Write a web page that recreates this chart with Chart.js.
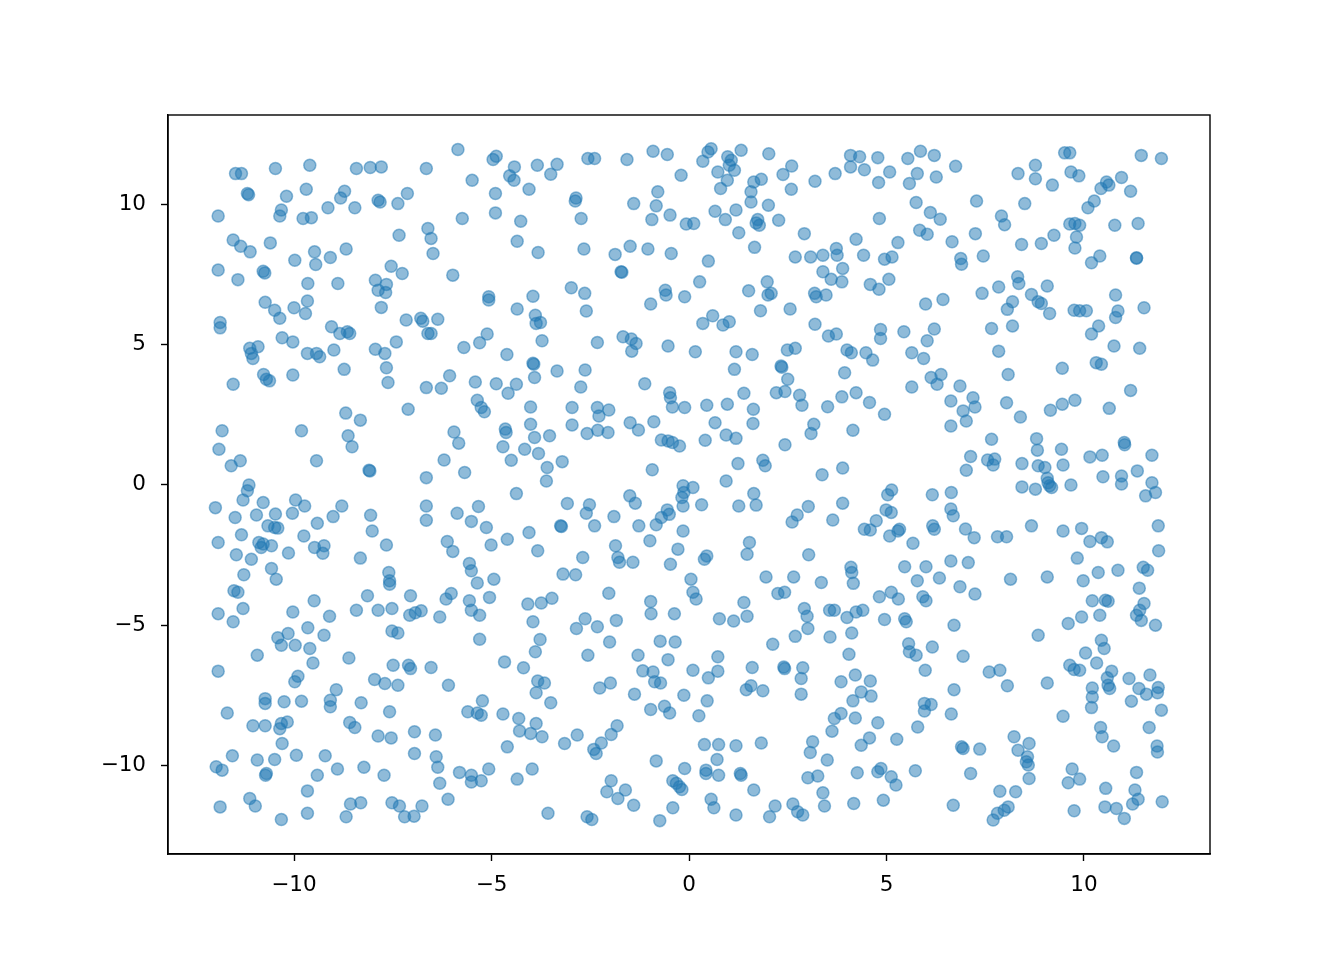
<!DOCTYPE html>
<html>
<head>
<meta charset="utf-8">
<script src="https://cdn.jsdelivr.net/npm/chart.js@4.4.1/dist/chart.umd.min.js"></script>
<style>
  body { margin: 0; background: #fff; }
  #wrap { width: 1344px; height: 960px; }
</style>
</head>
<body>
<div id="wrap"><canvas id="myChart" width="1344" height="960"></canvas></div>
<script>
// values, region by region
var xValues = [
  -11.48,-11.33,-10.47,-9.60,-8.42,-8.07,-7.79,-6.65,
  -11.18,-11.15,-10.19,-9.69,-8.72,-8.82,-7.87,-7.82,-7.13,-7.37,
  -11.92,-10.32,-10.36,-9.77,-9.56,-9.14,-8.46,-7.34,-6.61,
  -11.54,-11.35,-11.11,-10.60,-9.48,-9.45,-9.08,-8.68,-9.98,
  -11.92,-10.78,-10.74,-11.42,-9.65,-8.89,-7.54,-7.26,-7.94,-7.87,-7.66,-7.68,-7.79,
  -10.73,-10.49,-10.36,-10.00,-9.66,-9.71,-11.87,-11.87,-9.05,-8.84,-8.65,-8.59,-7.16,-6.79,-6.74,-6.61,
  -10.30,-10.03,-11.12,-10.91,-11.08,-11.04,-9.66,-9.43,-9.35,-8.99,-7.94,-7.70,-7.41,
  -5.85,-4.96,-4.88,-6.53,-6.48,-5.49,-4.42,-4.54,-4.43,-3.84,-3.34,-3.50,
  -4.90,-4.05,-2.56,-2.39,-1.57,-0.91,-0.55,-0.20,-2.86,-2.88,-2.73,-1.40,
  -0.79,-0.83,-0.94,-0.48,-0.07,-5.74,-4.90,-4.26,-4.35,-3.82,-2.66,
  -1.87,-1.49,-1.04,-0.45,-1.72,-1.70,-5.98,-5.07,-5.07,-3.95,-4.35,
  -3.89,-3.87,-3.76,-2.98,-2.64,-2.60,-0.60,-0.58,-0.97,-0.11,-6.36,-6.53,
  -5.11,-5.30,-5.70,-4.61,-3.72,-2.32,-1.67,-1.46,-1.34,-1.45,-0.53,
  0.56,0.48,0.35,1.32,2.02,0.98,1.07,1.02,1.15,0.73,0.97,0.80,
  1.64,1.83,1.57,1.57,2.38,2.60,2.59,3.19,3.70,4.09,4.32,4.09,4.44,
  4.78,4.80,5.08,5.54,5.86,6.21,5.78,5.58,6.26,0.12,0.66,0.92,1.19,
  2.01,1.74,1.78,1.70,2.27,1.26,1.66,2.92,0.49,0.27,
  2.69,3.08,3.39,3.73,3.75,3.89,3.39,3.60,3.87,4.23,4.42,4.82,5.29,
  4.95,5.14,4.59,4.81,5.06,5.75,6.11,6.36,5.84,6.03,1.98,2.08,2.00,
  1.51,3.18,3.22,3.47,1.81,2.56,5.99,6.43,0.35,0.60,0.86,1.02,
  3.19,3.53,3.73,4.85,4.85,5.44,6.21,6.03,0.16,1.19,1.60,2.49,2.69,
  4.00,4.11,4.48,4.65,5.64,5.94,
  6.75,9.51,9.64,11.45,11.96,8.33,8.77,8.77,9.20,9.67,9.87,
  10.43,10.57,10.63,10.95,11.18,7.28,8.50,10.26,10.10,7.91,7.99,7.25,6.66,
  9.64,9.77,9.89,9.81,9.77,10.78,11.37,8.42,8.92,9.24,10.40,10.19,
  11.33,11.33,6.88,6.90,7.45,8.32,8.35,7.84,7.42,8.67,8.84,8.92,9.07,
  8.19,8.06,9.13,9.75,9.89,10.06,10.80,10.86,10.80,11.52,7.66,8.19,10.37,
  10.19,7.84,10.76,11.41,
  -8.73,-7.66,-7.62,-10.77,-10.70,-10.62,-10.03,-11.54,-6.65,-7.11,-8.69,-8.32,
  -11.82,-9.81,-8.63,-8.53,-11.90,-11.59,-11.36,-9.43,-8.10,-8.08,-11.14,-11.18,-11.29,
  -6.65,-11.99,-10.78,-10.95,-11.49,-10.47,-10.66,-10.49,-10.41,-9.96,-9.73,-10.04,
  -8.79,-9.01,-9.41,-8.06,-8.02,-6.65,-6.65,-11.92,-11.33,-10.89,-10.83,-10.78,-10.57,
  -9.75,-9.48,-9.24,-9.27,-10.14,-11.46,-11.08,-7.66,-8.32,-10.57,-10.45,-11.27,
  -7.60,-7.58,-7.58,-11.52,-11.42,-8.14,-7.05,-9.49,
  -3.95,-3.93,-3.91,-3.34,-2.63,-2.74,-1.12,-6.06,-6.27,-5.41,-4.88,-4.37,-4.58,
  -5.36,-5.26,-5.18,-4.01,-2.96,-2.96,-2.32,-2.03,-2.28,-2.58,-2.31,-2.05,
  -1.49,-1.28,-0.89,-0.49,-0.47,-0.42,-0.11,-5.95,-5.83,-4.65,-4.63,-4.71,-4.50,
  -4.01,-3.91,-3.53,-4.16,-3.81,-3.59,-3.61,-3.21,-0.70,-0.53,-0.42,-0.24,
  -6.20,-5.68,-0.93,-4.37,-3.08,-1.50,-1.36,-2.52,-2.60,-2.39,-1.90,-3.25,-3.23,
  -5.87,-5.51,-5.33,-5.13,-4.60,-5.01,-4.05,-3.83,-6.12,-5.98,-1.27,-0.99,
  -0.83,-0.70,-0.55,-0.50,-0.15,-0.13,-0.18,-0.15,-0.15,-0.28,-0.47,
  -1.86,-1.80,-1.76,-1.42,-2.69,-3.19,-2.87,-2.03,-0.97,-5.56,-5.51,-5.36,-4.94,
  -6.15,-6.02,-5.05,-5.56,-4.08,-3.74,-3.47,
  1.15,2.33,2.35,2.50,2.21,2.43,2.80,2.86,3.94,1.39,0.45,0.97,
  1.63,1.62,0.66,0.94,1.19,0.41,2.43,3.16,3.09,3.51,3.87,4.23,4.57,
  4.95,4.15,5.64,6.13,6.38,6.28,1.24,1.87,1.93,0.94,0.10,0.32,
  1.26,1.64,1.70,3.37,3.89,2.61,2.74,3.02,3.89,3.64,5.03,5.13,4.99,
  5.12,4.74,4.44,4.59,5.08,5.29,5.33,5.67,6.16,6.17,6.21,1.53,1.47,
  0.39,0.45,3.03,1.95,2.65,3.35,4.10,4.12,4.16,5.46,6.00,5.78,6.34,
  0.05,0.10,0.18,1.39,2.25,2.42,4.82,5.12,5.30,5.92,6.00,
  8.08,9.45,10.31,10.44,11.18,6.86,6.63,7.19,7.24,6.94,7.02,6.63,
  8.04,8.39,9.15,9.45,9.77,10.64,7.66,8.80,8.82,9.43,11.02,11.03,11.72,
  7.13,7.02,7.56,7.74,7.70,8.43,8.84,9.01,9.47,10.15,10.46,9.07,9.13,
  9.18,9.09,8.43,8.77,9.67,10.48,10.95,10.95,11.35,11.72,11.81,11.56,
  6.64,6.63,6.69,7.00,8.67,7.22,7.81,8.04,9.47,9.94,10.15,10.44,10.59,
  11.88,11.89,6.63,7.07,9.83,10.36,9.98,10.86,11.50,11.61,8.14,9.07,
  6.86,7.24,11.40,10.21,10.54,10.61,11.52,
  -11.92,-11.54,-11.29,-10.03,-9.10,-8.42,-7.87,-7.52,-7.07,-6.93,-6.78,
  -10.41,-10.15,-10.32,-9.97,-9.65,-9.24,-9.60,-9.52,-10.93,-8.61,-7.52,-7.37,
  -11.92,-9.98,-9.90,-7.49,-7.10,-7.05,-7.96,-7.70,-7.37,-10.73,-10.73,-10.25,-9.81,
  -8.93,-9.08,-9.08,-8.30,-7.58,-11.69,-11.04,-10.73,-10.36,-10.17,-10.32,-10.30,
  -8.59,-8.46,-7.87,-7.54,-6.95,-6.95,-11.97,-11.82,-11.56,-10.93,-10.49,-9.94,
  -10.72,-10.70,-9.21,-8.90,-9.41,-8.23,-7.72,-9.66,-11.87,-11.12,-10.98,-10.32,
  -9.66,-8.57,-8.31,-8.68,-7.52,-7.33,-7.20,-6.96,-6.76,
  -6.31,-5.51,-5.30,-0.96,-0.37,-5.30,-3.95,-3.77,-3.89,-2.85,-2.63,-2.32,-1.84,
  -2.01,-2.56,-1.29,-1.17,-0.91,-0.87,-0.72,-0.73,-0.35,-0.53,-6.53,-6.09,
  -4.67,-4.19,-3.83,-3.66,-3.87,-3.50,-2.26,-1.99,-1.38,-0.13,-0.97,-0.62,-0.49,
  -5.60,-5.36,-5.26,-5.23,-4.71,-4.31,-4.29,-4.01,-3.87,-3.72,-6.42,-4.60,
  -3.15,-2.83,-2.41,-2.35,-2.22,-1.97,-1.82,-6.40,-6.36,-6.31,-6.10,
  -5.81,-5.51,-5.51,-5.26,-5.07,-4.35,-3.97,-0.83,-1.97,-2.08,-1.80,-1.61,-1.40,
  -3.57,-2.58,-2.46,-0.41,-0.32,-0.24,-0.18,-0.11,-0.41,-0.74,
  0.77,1.13,1.47,2.92,2.99,3.01,2.69,3.56,3.68,4.00,4.23,4.40,4.12,
  4.95,5.46,5.50,2.12,3.57,4.05,5.56,5.58,5.75,6.16,5.98,0.73,
  0.73,0.10,0.49,1.60,2.40,2.42,2.88,2.84,2.84,1.45,1.57,1.87,0.46,
  0.25,3.85,4.21,4.59,4.36,4.61,4.15,5.96,5.96,6.13,5.79,3.68,
  3.85,4.21,3.62,4.78,4.57,4.36,5.26,0.39,0.75,1.19,1.83,0.71,3.13,
  3.07,3.50,0.43,0.43,0.75,1.30,1.32,1.64,3.01,3.26,4.26,4.78,
  4.86,5.12,5.24,5.73,3.39,3.43,0.56,0.63,1.19,2.18,2.04,2.63,2.75,
  2.88,4.17,4.92,
  9.94,10.40,9.60,11.33,11.45,11.41,11.81,6.71,8.84,6.94,7.60,7.87,
  8.06,9.07,6.71,6.64,9.47,10.44,10.51,10.04,10.32,9.64,9.75,9.89,
  10.70,10.59,10.61,10.65,10.21,10.21,10.19,11.14,11.67,11.39,11.58,11.20,11.88,
  11.86,11.96,10.42,10.46,10.75,11.65,11.85,11.86,6.90,6.94,7.36,
  8.23,8.61,8.33,8.57,8.54,8.59,8.61,7.13,9.70,9.89,9.60,
  11.33,11.29,11.37,11.23,10.55,11.98,6.69,7.87,8.27,8.08,7.98,7.81,7.70,
  9.75,10.53,10.82,11.02
];
var yValues = [
  11.10,11.10,11.28,11.40,11.28,11.32,11.34,11.28,
  10.39,10.35,10.29,10.54,10.47,10.23,10.15,10.09,10.39,10.03,
  9.59,9.80,9.59,9.50,9.53,9.88,9.88,8.90,9.14,
  8.73,8.51,8.31,8.63,8.31,7.86,8.11,8.41,8.01,
  7.66,7.62,7.56,7.32,7.18,7.18,7.80,7.54,7.30,6.94,7.15,6.86,6.33,
  6.51,6.23,5.94,6.32,6.56,6.11,5.79,5.60,5.64,5.40,5.46,5.40,5.88,5.94,5.84,5.40,
  5.25,5.10,4.87,4.93,4.69,4.51,4.69,4.69,4.57,4.81,4.84,4.69,5.10,
  11.96,11.60,11.72,8.79,8.25,10.86,11.34,11.02,10.86,11.40,11.43,11.08,
  10.39,10.54,11.64,11.64,11.60,11.90,11.78,11.04,10.23,10.12,9.50,10.03,
  10.45,9.95,9.46,9.62,9.30,9.50,9.70,9.40,8.69,8.29,8.41,
  8.22,8.51,8.41,8.25,7.60,7.58,7.48,6.71,6.59,6.73,6.27,
  6.05,5.76,5.79,7.03,6.83,6.20,6.94,6.77,6.45,6.71,5.91,5.40,
  5.38,5.07,4.90,4.65,5.14,5.08,5.28,5.20,5.04,4.77,4.95,
  11.99,11.87,11.54,11.93,11.81,11.70,11.58,11.40,11.22,11.16,10.86,10.57,
  10.80,10.90,10.45,10.09,11.07,11.37,10.54,10.83,11.10,11.75,11.70,11.34,11.24,
  11.67,10.78,11.16,11.64,11.90,11.75,11.10,10.75,10.98,9.32,9.76,9.46,9.80,
  9.97,9.46,9.26,9.34,9.44,8.99,8.47,8.96,7.98,7.24,
  8.13,8.13,8.19,8.43,8.19,7.72,7.60,7.33,7.24,8.76,8.19,9.50,8.64,
  8.05,8.13,7.15,6.98,7.33,10.07,9.71,9.47,9.08,8.94,7.24,6.83,6.77,
  6.92,6.83,6.71,6.77,6.21,6.27,6.45,6.61,5.76,6.03,5.70,5.82,
  5.73,5.31,5.38,5.54,5.22,5.46,5.56,5.14,4.75,4.75,4.65,4.81,4.87,
  4.81,4.71,4.71,4.45,4.71,4.51,
  11.36,11.84,11.84,11.75,11.64,11.10,11.40,10.92,10.69,11.16,11.02,
  10.57,10.80,10.69,10.96,10.47,10.12,10.03,10.12,9.88,9.59,9.28,8.96,8.67,
  9.30,9.32,9.26,8.84,8.45,9.26,9.32,8.57,8.61,8.90,8.16,7.92,
  8.10,8.08,8.07,7.87,8.16,7.42,7.18,7.06,6.83,6.79,6.53,6.47,7.09,
  6.53,6.26,6.11,6.23,6.21,6.21,6.77,6.20,5.97,6.32,5.58,5.67,5.67,
  5.38,4.77,4.95,4.87,
  4.12,4.18,3.65,3.94,3.77,3.71,3.92,3.59,3.47,2.70,2.56,2.31,
  1.93,1.93,1.75,1.36,1.27,0.68,0.86,0.86,0.52,0.50,0.00,-0.21,-0.54,
  0.26,-0.81,-0.63,-1.07,-1.16,-1.04,-1.46,-1.52,-1.54,-0.54,-0.75,-1.01,
  -0.75,-1.13,-1.37,-1.08,-1.64,-0.75,-1.26,-2.05,-1.78,-2.05,-2.23,-2.11,-2.17,
  -1.82,-2.23,-2.17,-2.44,-2.43,-2.49,-2.65,-2.14,-2.61,-2.98,-3.36,-3.20,
  -3.12,-3.42,-3.54,-3.77,-3.83,-3.95,-3.95,-4.13,
  4.34,4.30,3.83,4.06,4.10,3.49,3.61,3.89,3.45,3.67,3.61,3.59,3.27,
  3.02,2.76,2.61,2.78,2.76,2.14,2.76,2.67,2.46,1.83,1.95,1.87,
  2.22,1.96,2.25,3.29,3.11,2.78,2.76,1.89,1.49,1.99,1.87,1.36,0.88,
  2.16,1.69,1.75,1.27,1.12,0.62,0.14,0.83,1.60,1.57,1.51,1.39,
  0.89,0.44,0.54,-0.31,-0.66,-0.39,-0.65,-0.71,-1.01,-1.46,-1.13,-1.46,-1.48,
  -1.01,-1.30,-0.77,-1.52,-1.94,-2.14,-1.70,-2.35,-2.02,-2.37,-1.46,-1.99,
  -1.42,-1.16,-0.89,-1.05,-0.03,-0.27,-0.45,-0.75,-1.64,-2.29,-2.83,
  -2.17,-2.59,-2.76,-2.76,-2.59,-3.18,-3.20,-3.86,-4.16,-2.80,-3.06,-3.50,-3.36,
  -4.07,-3.87,-4.01,-4.13,-4.25,-4.21,-4.04,
  4.12,4.24,4.20,3.77,3.29,3.33,3.20,2.84,4.00,3.27,2.84,2.88,
  2.70,2.19,2.22,1.78,1.66,1.59,1.43,2.16,1.83,2.79,3.14,3.29,2.94,
  2.52,1.95,3.49,3.83,3.94,3.59,0.76,0.88,0.68,0.14,-0.09,-0.71,
  -0.75,-0.31,-0.72,0.36,0.60,-1.32,-1.07,-0.77,-0.65,-1.25,-0.35,-0.18,-0.89,
  -0.98,-1.28,-1.58,-1.61,-1.82,-1.64,-1.58,-2.08,-0.35,-1.46,-1.58,-2.05,-2.47,
  -2.65,-2.53,-2.49,-3.28,-3.28,-3.48,-2.94,-3.12,-3.51,-2.92,-2.92,-3.42,-3.32,
  -3.36,-3.83,-4.07,-4.19,-3.87,-3.83,-3.99,-3.83,-4.07,-3.99,-4.13,
  3.94,4.16,4.36,4.30,3.37,3.53,2.99,3.11,2.78,2.64,2.28,2.10,
  2.93,2.42,2.66,2.88,3.02,2.73,1.63,1.65,1.24,1.27,1.51,1.43,1.06,
  1.01,0.52,0.89,0.92,0.71,0.76,0.68,0.62,0.71,1.00,1.06,0.24,-0.03,
  -0.09,0.08,-0.07,-0.15,0.00,0.29,0.32,0.03,0.50,0.08,-0.27,-0.39,
  -0.27,-0.86,-1.10,-1.57,-1.46,-1.88,-1.85,-1.85,-1.64,-1.55,-2.02,-1.88,-2.03,
  -1.46,-2.35,-2.71,-2.77,-2.61,-3.12,-3.42,-3.04,-2.94,-3.04,-3.36,-3.28,
  -3.63,-3.89,-3.68,-4.13,-4.11,-4.15,-4.23,
  -4.59,-4.88,-4.41,-4.53,-4.68,-4.47,-4.47,-4.41,-4.65,-4.56,-4.49,
  -5.45,-5.30,-5.72,-5.72,-5.09,-5.36,-5.83,-6.35,-6.07,-6.17,-5.21,-5.28,
  -6.64,-7.02,-6.82,-6.43,-6.43,-6.55,-6.94,-7.08,-7.14,-7.62,-7.79,-7.73,-7.71,
  -7.30,-7.68,-7.91,-7.77,-8.09,-8.13,-8.59,-8.59,-8.69,-8.45,-8.51,-9.22,
  -8.47,-8.65,-8.95,-9.02,-8.80,-9.58,-10.05,-10.17,-9.66,-9.81,-9.79,-9.64,
  -10.35,-10.29,-9.66,-10.13,-10.35,-10.07,-10.35,-10.91,-11.48,-11.18,-11.45,-11.93,
  -11.71,-11.38,-11.33,-11.83,-11.33,-11.45,-11.83,-11.81,-11.45,
  -4.71,-4.47,-4.65,-4.59,-4.59,-5.50,-4.88,-5.51,-5.95,-5.12,-4.77,-5.06,-4.83,
  -5.60,-6.07,-6.07,-6.63,-6.67,-7.02,-7.06,-5.57,-5.60,-6.23,-6.51,-7.14,
  -6.31,-6.52,-6.99,-7.06,-7.41,-7.77,-7.24,-7.06,-7.46,-7.50,-8.01,-7.89,-8.13,
  -8.09,-8.13,-8.21,-7.70,-8.17,-8.33,-8.77,-8.86,-8.51,-8.98,-8.92,-9.34,
  -9.22,-8.92,-9.43,-9.58,-9.20,-8.90,-8.59,-9.69,-10.07,-10.64,-11.21,
  -10.25,-10.35,-10.59,-10.55,-10.13,-10.49,-10.13,-9.84,-10.55,-10.94,-11.18,-10.88,-11.42,
  -11.71,-11.83,-11.93,-10.55,-10.64,-10.76,-10.86,-10.11,-11.51,-11.97,
  -4.77,-4.85,-4.68,-4.41,-4.68,-5.12,-5.40,-4.47,-4.47,-4.73,-4.53,-4.47,-5.28,
  -4.80,-4.77,-4.88,-5.68,-5.42,-6.04,-5.66,-5.95,-6.07,-5.78,-6.61,-6.13,
  -6.64,-6.61,-6.88,-6.51,-6.49,-6.55,-6.52,-6.90,-7.46,-7.30,-7.16,-7.34,-7.70,
  -8.23,-7.02,-6.78,-6.99,-7.38,-7.53,-7.70,-7.79,-8.06,-7.83,-8.63,-8.33,
  -8.15,-8.31,-8.78,-8.48,-9.02,-9.28,-9.07,-9.26,-9.26,-9.30,-9.20,-9.79,-9.16,
  -9.54,-9.81,-10.17,-10.29,-10.35,-10.29,-10.35,-10.88,-10.44,-10.38,-10.26,-10.23,
  -10.11,-10.41,-10.70,-10.19,-10.98,-11.45,-11.21,-11.51,-11.77,-11.45,-11.83,-11.38,-11.65,
  -11.77,-11.36,-11.24,
  -4.71,-4.65,-4.94,-4.65,-4.83,-4.47,-5.00,-5.00,-5.36,-6.11,-6.67,-6.61,
  -7.16,-7.06,-7.30,-8.17,-8.25,-5.54,-5.83,-5.99,-6.35,-6.43,-6.58,-6.61,
  -6.64,-6.88,-7.14,-7.26,-7.24,-7.56,-7.94,-6.90,-6.78,-7.26,-7.46,-7.71,-7.22,
  -7.41,-8.03,-8.65,-8.98,-9.31,-8.65,-9.31,-9.52,-9.34,-9.40,-9.42,
  -8.98,-9.22,-9.46,-9.69,-9.87,-9.99,-10.47,-10.29,-10.13,-10.49,-10.62,
  -10.25,-10.88,-11.21,-11.38,-10.82,-11.30,-11.42,-10.92,-10.94,-11.48,-11.60,-11.71,-11.95,
  -11.62,-11.48,-11.54,-11.89
];
var xTicks = [-10, -5, 0, 5, 10];
var yTicks = [-10, -5, 0, 5, 10];
var xMin = -13.19, xMax = 13.19;
var yMin = -13.16, yMax = 13.19;

var points = [];
for (var i = 0; i < xValues.length; i++) {
  points.push({ x: xValues[i], y: yValues[i] });
}

function minusLabel(v) {
  return String(v).replace("-", "\u2212");
}

// top and right spines, matplotlib style box
var frameBox = {
  id: "frameBox",
  afterDraw: function (chart) {
    var a = chart.chartArea;
    var c = chart.ctx;
    c.save();
    c.strokeStyle = "#000";
    c.lineWidth = 1.4;
    c.strokeRect(a.left, a.top, a.right - a.left, a.bottom - a.top);
    c.restore();
  },
};

var tickFont = { family: "DejaVu Sans", size: 21.5 };
var ctx = document.getElementById("myChart").getContext("2d");
var myChart = new Chart(ctx, {
  type: "scatter",
  data: {
    datasets: [
      {
        data: points,
        backgroundColor: "rgba(31,119,180,0.5)",
        borderColor: "rgba(31,119,180,0.5)",
        borderWidth: 1.5,
        pointRadius: 6,
        pointHoverRadius: 6,
      },
    ],
  },
  options: {
    responsive: false,
    animation: false,
    layout: { padding: { top: 115, right: 134, left: 0, bottom: 0 } },
    plugins: { legend: { display: false }, tooltip: { enabled: false } },
    scales: {
      x: {
        type: "linear",
        min: xMin,
        max: xMax,
        afterBuildTicks: function (s) {
          s.ticks = xTicks.map(function (v) { return { value: v }; });
        },
        afterFit: function (s) { s.height = 106; },
        ticks: { callback: minusLabel, font: tickFont, color: "#000", padding: 12, maxRotation: 0 },
        grid: { display: true, drawOnChartArea: false, drawTicks: true, tickLength: 7, tickColor: "#000", tickWidth: 1.4 },
        border: { display: true, color: "#000", width: 1.4 },
      },
      y: {
        type: "linear",
        min: yMin,
        max: yMax,
        afterBuildTicks: function (s) {
          s.ticks = yTicks.map(function (v) { return { value: v }; });
        },
        afterFit: function (s) { s.width = 168; },
        ticks: { callback: minusLabel, font: tickFont, color: "#000", padding: 15 },
        grid: { display: true, drawOnChartArea: false, drawTicks: true, tickLength: 7, tickColor: "#000", tickWidth: 1.4 },
        border: { display: true, color: "#000", width: 1.4 },
      },
    },
  },
  plugins: [frameBox],
});
</script>
</body>
</html>
